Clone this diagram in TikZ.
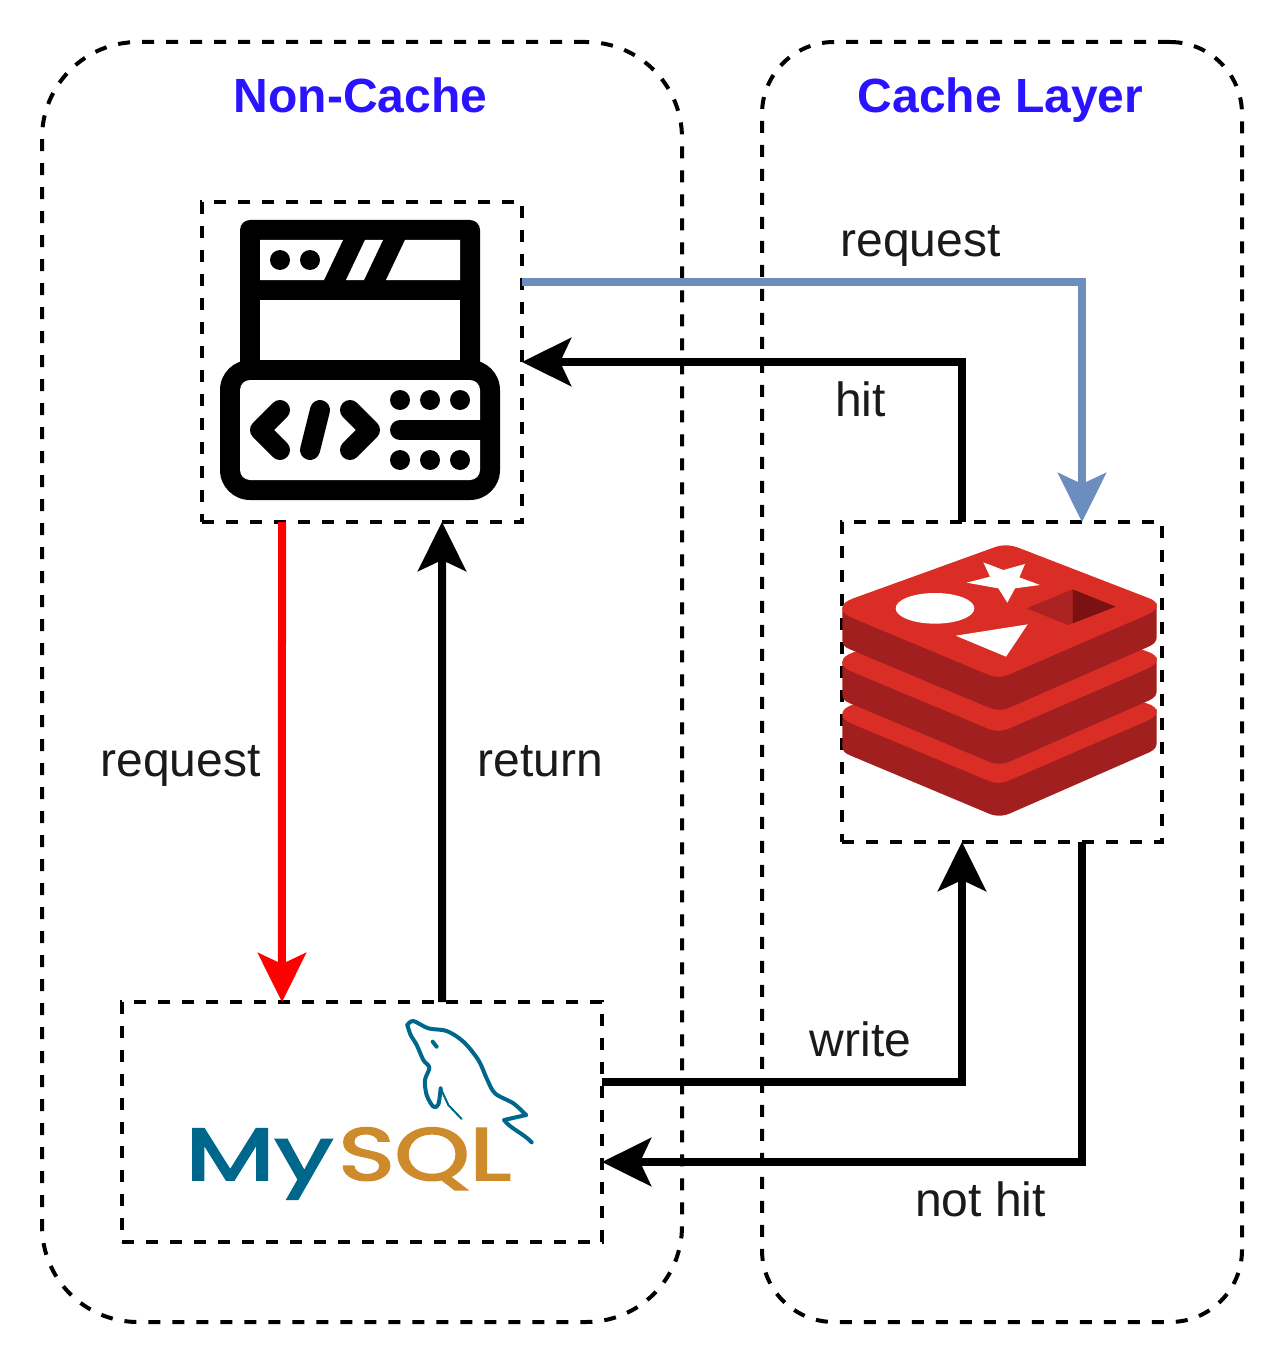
\documentclass[tikz,border=0pt]{standalone}
\usepackage{fontspec}
\setmainfont{Liberation Sans}
\newfontfamily\logofont[FakeBold=2.6]{Poppins}
\usetikzlibrary{arrows.meta,calc}
\definecolor{titleblue}{HTML}{2A14FF}
\definecolor{labelink}{HTML}{1A1A1A}
\definecolor{reqblue}{HTML}{6C8EBF}
\definecolor{redislight}{HTML}{D92D25}
\definecolor{redisdark}{HTML}{A11F1E}
\definecolor{redismid}{HTML}{AB2222}
\definecolor{redisdeep}{HTML}{7A1211}
\definecolor{mysqlblue}{HTML}{00678C}
\definecolor{mysqlorange}{HTML}{CE8B2C}
\tikzset{
  dashbox/.style={draw=black,line width=2pt,dash pattern=on 6pt off 6pt,inner sep=0pt,outer sep=0pt,rectangle},
  flow/.style={line width=4pt,-{Stealth[length=24.5pt,width=24pt,inset=5.5pt]}},
  lbl/.style={font=\fontsize{24pt}{28pt}\selectfont,text=labelink,inner sep=0pt,text height=17.2pt,text depth=0pt},
  grouptitle/.style={font=\fontsize{24pt}{28pt}\selectfont\bfseries,text=titleblue,inner sep=0pt,text height=17.2pt,text depth=0pt},
  iconline/.style={draw=black,line width=10pt,line cap=round,line join=round},
  dolphin/.style={draw=mysqlblue,line width=2pt,line join=round,line cap=round},
  logotext/.style={inner sep=0pt,anchor=base west,font=\logofont\fontsize{37pt}{40pt}\selectfont},
}
\newcommand{\redislayer}[1]{%
  \begin{scope}[yshift=#1]
    \fill[redisdark] (22,262) -- (22,360) .. controls (22,375) and (30,382) .. (45,388) -- (455,560) .. controls (480,572) and (505,572) .. (530,560) -- (945,378) .. controls (960,370) and (965,362) .. (965,350) -- (965,250) -- cycle;
    \fill[redislight] (22,265) .. controls (22,250) and (35,243) .. (55,235) -- (470,85) .. controls (498,73) and (525,73) .. (555,85) -- (935,232) .. controls (958,240) and (965,247) .. (965,258) .. controls (965,268) and (955,275) .. (935,285) -- (530,460) .. controls (500,474) and (480,474) .. (450,460) -- (55,295) .. controls (35,287) and (22,278) .. (22,265) -- cycle;
  \end{scope}}
\begin{document}
\begin{tikzpicture}[x=0.5pt,y=-0.5pt]
\useasboundingbox (0,0) rectangle (1284,1364);
\fill[white] (0,0) rectangle (1284,1364);
% groups
\node[dashbox,rounded corners=48pt,minimum width=320pt,minimum height=640pt] (noncache) at (362,682) {};
\node[dashbox,rounded corners=36pt,minimum width=240pt,minimum height=640pt] (cachelayer) at (1002,682) {};
\node[grouptitle] (t1) at (360.5,95) {Non-Cache};
\node[grouptitle] (t2) at (1000.5,95) {Cache Layer};
% boxes
\node[dashbox,minimum width=160pt,minimum height=160pt] (srv) at (362,362) {};
\node[dashbox,minimum width=160pt,minimum height=160pt] (redis) at (1002,682) {};
\node[dashbox,minimum width=240pt,minimum height=120pt] (mysql) at (362,1122) {};
% server icon
\fill[black,rounded corners=5pt] (240,220) rectangle (480,380);
\fill[black,rounded corners=15pt] (220,360) rectangle (500,500);
\fill[white] (260,240) -- (343,240) -- (324,280) -- (260,280) -- cycle;
\fill[white] (365,240) -- (383,240) -- (364,280) -- (346,280) -- cycle;
\fill[white] (405,240) -- (460,240) -- (460,280) -- (386,280) -- cycle;
\fill[white] (260,300) rectangle (460,360);
\fill[white,rounded corners=5pt] (240,380) rectangle (480,480);
\fill[black] (280,260) circle[radius=5pt] (310,260) circle[radius=5pt];
\foreach \px in {400,430,460}{\fill[black] (\px,400) circle[radius=5pt] (\px,460) circle[radius=5pt];}
\draw[iconline] (400,430) -- (480,430);
\draw[iconline] (280,410) -- (260,430) -- (280,450);
\draw[iconline] (320,410) -- (310,450);
\draw[iconline] (350,410) -- (370,430) -- (350,450);
% redis icon
\begin{scope}[shift={(835,520)},x=0.16667pt,y=-0.16667pt]
  \redislayer{-53pt}
  \redislayer{-27pt}
  \redislayer{0pt}
  \fill[white] (445,127) -- (505,150) -- (570,132) -- (553,172) -- (615,195) -- (540,205) -- (517,248) -- (490,205) -- (395,188) -- (465,170) -- cycle;
  \fill[white] (300,265) ellipse[x radius=118,y radius=46];
  \fill[white] (362,347) -- (578,313) -- (513,410) -- cycle;
  \fill[redismid] (575,265) -- (713,208) -- (713,310) -- (700,315) -- cycle;
  \fill[redisdeep] (713,208) -- (842,260) -- (713,310) -- cycle;
\end{scope}
% mysql logo
\node[logotext,text=mysqlblue,xscale=1.4] (logomy) at (185,1180) {My};
\node[logotext,text=mysqlorange,xscale=1.29] (logosql) at (338,1180) {SQL};
\begin{scope}[shift={(170,1005)},x=0.16667pt,y=-0.16667pt]
  \draw[dolphin] plot[smooth,tension=0.55] coordinates {(712,60) (730,48) (775,70) (830,78) (880,110) (925,165) (950,220) (975,265) (1030,295) (1068,330)};
  \draw[dolphin] (1068,330) -- (1002,345) .. controls (1020,370) and (1060,385) .. (1085,412);
  \draw[dolphin] plot[smooth,tension=0.55] coordinates {(712,60) (722,90) (740,120) (760,165) (778,188) (765,225) (770,270) (790,305) (805,298) (812,250)};
  \draw[dolphin,line width=1pt] (812,250) -- (835,300) -- (875,342);
  \draw[dolphin] (788,110) -- (800,125);
\end{scope}
% connectors
\draw[flow,draw=reqblue] ($(srv.north east)!0.25!(srv.south east)$) -| ($(redis.north west)!0.75!(redis.north east)$);
\draw[flow] ($(redis.north west)!0.375!(redis.north east)$) |- (srv.east);
\draw[flow,draw=red] ($(srv.south west)!0.25!(srv.south east)$) -- ($(mysql.north west)!0.3333!(mysql.north east)$);
\draw[flow] ($(mysql.north west)!0.6667!(mysql.north east)$) -- ($(srv.south west)!0.75!(srv.south east)$);
\draw[flow] ($(mysql.north east)!0.3333!(mysql.south east)$) -| ($(redis.south west)!0.375!(redis.south east)$);
\draw[flow] ($(redis.south west)!0.75!(redis.south east)$) |- ($(mysql.north east)!0.6667!(mysql.south east)$);
% labels
\node[lbl] (l1) at (920.5,239) {request};
\node[lbl] (l2) at (860.5,399) {hit};
\node[lbl] (l3) at (180.5,759) {request};
\node[lbl] (l4) at (540.5,759) {return};
\node[lbl] (l5) at (860.5,1039) {write};
\node[lbl] (l6) at (980.5,1199) {not hit};
\end{tikzpicture}
\end{document}
